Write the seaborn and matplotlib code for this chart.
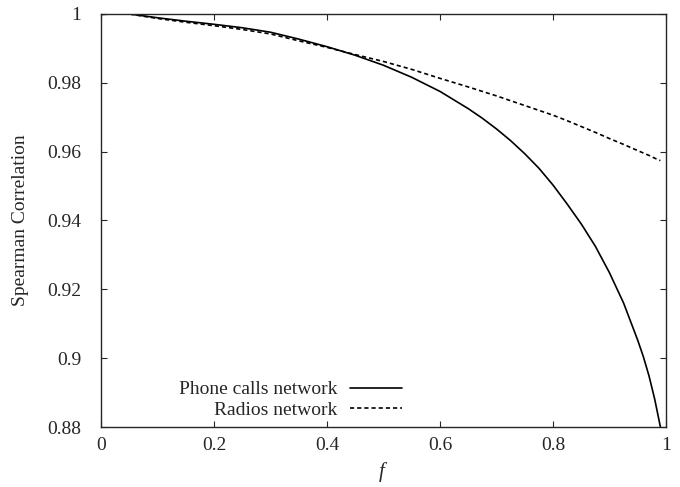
import pandas as pd
import numpy as np
import matplotlib
matplotlib.use('Agg')
import matplotlib.pyplot as plt
import seaborn as sns
from matplotlib.ticker import FormatStrFormatter

sns.set_style('ticks')
plt.rcParams['font.family'] = ['Liberation Serif', 'DejaVu Serif']
plt.rcParams['mathtext.fontset'] = 'custom'
plt.rcParams['mathtext.it'] = 'Liberation Serif:italic'

# fraction f of removed nodes
f_values = [0, 0.03, 0.05, 0.1, 0.15, 0.2, 0.25, 0.3, 0.35, 0.4, 0.45, 0.5,
            0.55, 0.6, 0.65, 0.675, 0.7, 0.725, 0.75, 0.775, 0.8, 0.825, 0.85,
            0.875, 0.9, 0.925, 0.95, 0.96, 0.97, 0.98, 0.99]

phone_calls = [0.9999, 1.0, 1.0, 0.9989, 0.9979, 0.9970, 0.9960, 0.9947,
               0.9927, 0.9905, 0.9880, 0.9851, 0.9816, 0.9775, 0.9725, 0.9697,
               0.9666, 0.9632, 0.9594, 0.9552, 0.9503, 0.9448, 0.9390,
               0.9325, 0.9248, 0.9160, 0.9052, 0.9004, 0.8948, 0.8881, 0.8801]

radios = [0.9999, 1.0, 1.0, 0.9987, 0.9976, 0.9966, 0.9955, 0.9942,
          0.9922, 0.9903, 0.9882, 0.9862, 0.9839, 0.9813, 0.9788, 0.9775,
          0.9762, 0.9748, 0.9734, 0.9720, 0.9706, 0.9690, 0.9673,
          0.9656, 0.9638, 0.9621, 0.9603, 0.9596, 0.9589, 0.9581, 0.9574]

series_names = ['Phone calls network', 'Radios network']

df = pd.DataFrame({
    'f': f_values * 2,
    'corr': phone_calls + radios,
    'network': [series_names[0]] * len(f_values) + [series_names[1]] * len(f_values),
})

fig = plt.figure(figsize=(6.8, 4.87), dpi=100)
ax = fig.add_axes([0.1485, 0.1232, 0.8309, 0.8481])

sns.lineplot(data=df, x='f', y='corr', hue='network', style='network',
             palette={series_names[0]: 'black', series_names[1]: 'black'},
             dashes={series_names[0]: '', series_names[1]: (2.5, 1.8)},
             linewidth=1.2, ax=ax)

ax.set_xlim(0, 1)
ax.set_ylim(0.88, 1)
ax.set_xticks([0, 0.2, 0.4, 0.6, 0.8, 1])
ax.set_yticks([0.88, 0.9, 0.92, 0.94, 0.96, 0.98, 1])
ax.xaxis.set_major_formatter(FormatStrFormatter('%g'))
ax.yaxis.set_major_formatter(FormatStrFormatter('%g'))
ax.tick_params(direction='in', length=4.5, width=0.8, top=True, right=True,
               labelsize=14)
ax.tick_params(axis='y', pad=14)
ax.tick_params(axis='x', pad=7)
for sp in ax.spines.values():
    sp.set_linewidth(1.0)

ax.set_xlabel('$f$', fontsize=15)
ax.set_ylabel('Spearman Correlation', fontsize=14)
ax.yaxis.set_label_coords(-0.127, 0.5)
ax.xaxis.set_label_coords(0.5, -0.08)

leg = ax.legend(loc='lower right', bbox_to_anchor=(0.547, 0.0), frameon=False,
                markerfirst=False, fontsize=14, handlelength=2.7,
                handletextpad=0.65, labelspacing=0.17, borderaxespad=0)
for t in leg.get_texts():
    t.set_ha('right')
leg._legend_box.align = 'right'

fig.savefig('out.png', dpi=100)
